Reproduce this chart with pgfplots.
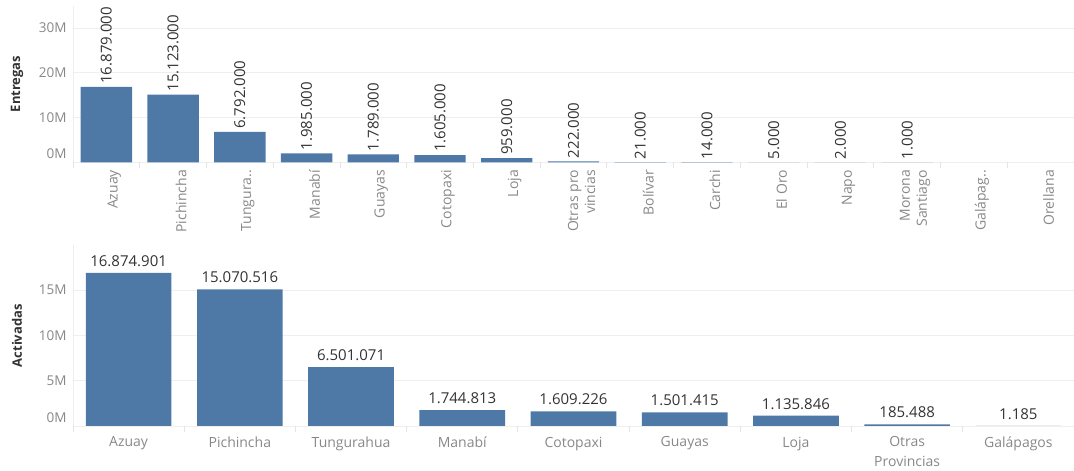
\documentclass[border=0pt]{standalone}
\usepackage{pgfplots}
\pgfplotsset{compat=1.18}
\usepackage{fontspec}
\setmainfont{Open Sans}
\definecolor{barc}{HTML}{4E79A7}
\definecolor{tickc}{HTML}{888888}
\definecolor{valc}{HTML}{333333}
\definecolor{gridc}{HTML}{EFEFEF}
\definecolor{axl}{HTML}{E4E4E4}
\begin{document}
\begin{tikzpicture}
\useasboundingbox (0pt,0pt) rectangle (1074pt,471pt);
\pgfplotsset{
  tabstyle/.style={
    scale only axis, width=1001pt, anchor=south west,
    ymin=0, clip=false, enlargelimits=false,
    scaled y ticks=false,
    axis line style={draw=none},
    xtick style={draw=none}, ytick style={draw=none},
    xtick pos=bottom, ytick pos=left,
    ymajorgrids, grid style={draw=gridc, line width=0.8pt},
    yticklabel style={font=\fontsize{13.5}{15}\selectfont, text=tickc, anchor=east, xshift=-3pt},
    ylabel style={at={(axis description cs:0,0.5)}, anchor=center, yshift=56pt, font=\bfseries\fontsize{13}{15}\selectfont, text=valc},
    ybar, bar width=0.77, bar shift=0pt,
    nodes near coords, point meta=explicit symbolic,
    extra tick style={grid=none},
  }
}
% ---------------- Top: Entregas
\begin{axis}[tabstyle,
  at={(73pt,308.7pt)}, height=156.5pt,
  xmin=-0.5, xmax=14.5, ymax=35e6,
  ytick={0,10e6,20e6,30e6},
  yticklabels={\raisebox{17pt}{0M},10M,20M,30M},
  xtick={0,...,14},
  xticklabels={Azuay,Pichincha,Tungura..,Manabí,Guayas,Cotopaxi,Loja,{Otras pro\\vincias},Bolívar,Carchi,El Oro,Napo,{Morona\\Santiago},Galápag..,Orellana},
  xticklabel style={rotate=90, anchor=east, align=right, font=\fontsize{14}{17}\selectfont, text=tickc, yshift=-8pt},
  extra x ticks={-0.5,0.5,1.5,2.5,3.5,4.5,5.5,6.5,7.5,8.5,9.5,10.5,11.5,12.5,13.5,14.5},
  extra x tick labels={},
  extra x tick style={xtick style={draw=axl, line width=0.8pt}, major tick length=6pt, tick align=outside},
  nodes near coords style={rotate=90, anchor=west, font=\fontsize{15}{17}\selectfont, text=valc, inner sep=3pt},
  ylabel={Entregas},
]
\addplot[fill=barc, draw=none] coordinates {
 (0,16879000) [16.879.000]
 (1,15123000) [15.123.000]
 (2,6792000) [6.792.000]
 (3,1985000) [1.985.000]
 (4,1789000) [1.789.000]
 (5,1605000) [1.605.000]
 (6,959000) [959.000]
 (7,222000) [222.000]
 (8,21000) [21.000]
 (9,14000) [14.000]
 (10,5000) [5.000]
 (11,2000) [2.000]
 (12,1000) [1.000]
};
\draw[axl, line width=0.8pt] (rel axis cs:0,1) -- (rel axis cs:0,0) -- ++(0pt,-6pt);
\end{axis}
% ---------------- Bottom: Activadas
\begin{axis}[tabstyle,
  at={(73pt,45pt)}, height=180.5pt,
  xmin=-0.5, xmax=8.5, ymax=19.9e6,
  ytick={0,5e6,10e6,15e6},
  yticklabels={\raisebox{17pt}{0M},5M,10M,15M},
  xtick={0,...,8},
  xticklabels={Azuay,Pichincha,Tungurahua,Manabí,Cotopaxi,Guayas,Loja,{Otras\\Provincias},Galápagos},
  xticklabel style={anchor=north, align=center, font=\fontsize{14}{20}\selectfont, text=tickc, yshift=-3pt},
  extra x ticks={-0.5,0.5,1.5,2.5,3.5,4.5,5.5,6.5,7.5,8.5},
  extra x tick labels={},
  extra x tick style={xtick style={draw=axl, line width=0.8pt}, major tick length=6pt, tick align=outside},
  nodes near coords style={anchor=south, font=\fontsize{15}{17}\selectfont, text=valc, inner sep=3pt, yshift=3pt},
  ylabel={Activadas},
]
\addplot[fill=barc, draw=none] coordinates {
 (0,16874901) [16.874.901]
 (1,15070516) [15.070.516]
 (2,6501071) [6.501.071]
 (3,1744813) [1.744.813]
 (4,1609226) [1.609.226]
 (5,1501415) [1.501.415]
 (6,1135846) [1.135.846]
 (7,185488) [185.488]
 (8,1185) [1.185]
};
\draw[axl, line width=0.8pt] (rel axis cs:0,1) -- (rel axis cs:0,0) -- ++(0pt,-6pt);
\end{axis}
\end{tikzpicture}
\end{document}
